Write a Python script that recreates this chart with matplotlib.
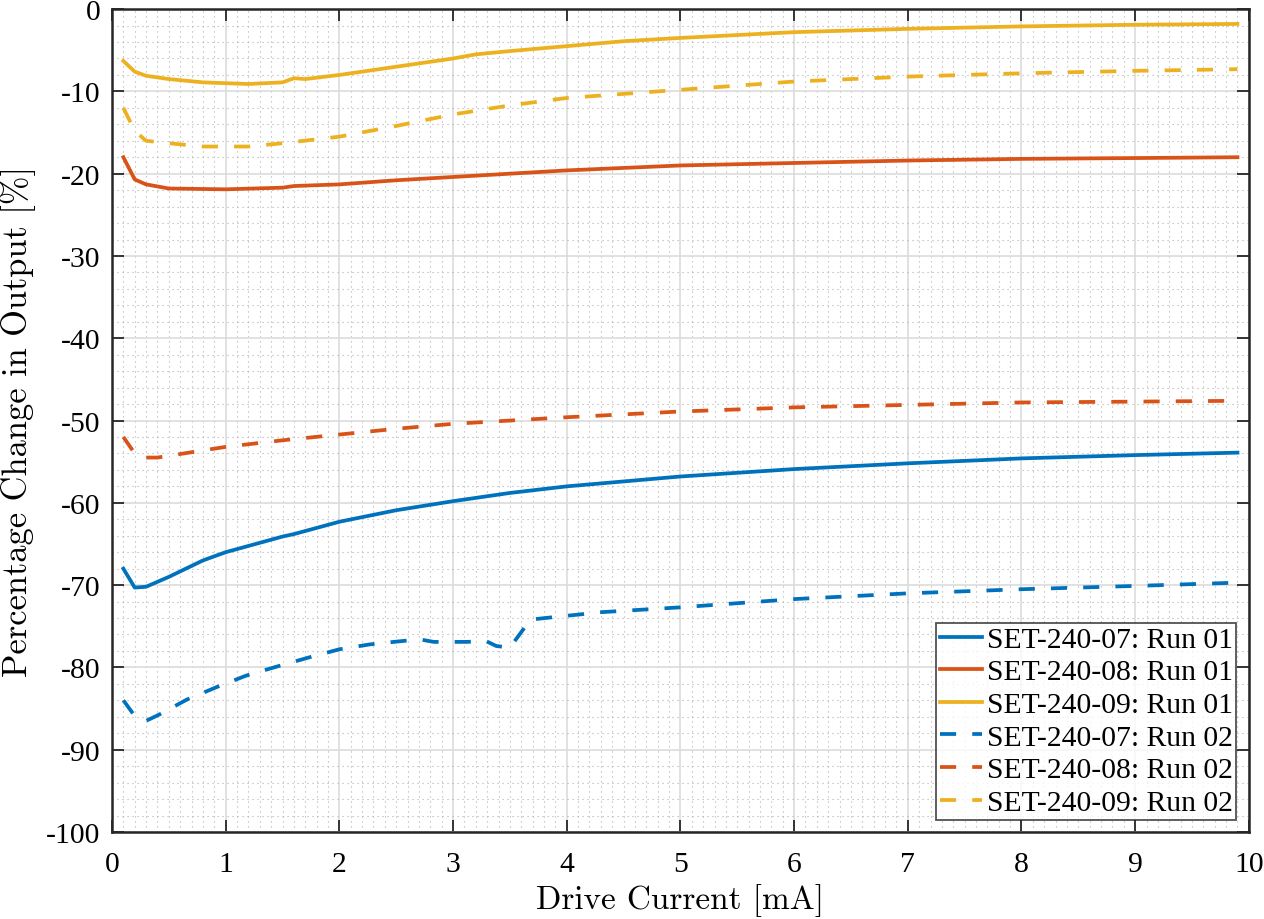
import matplotlib
matplotlib.use("Agg")
import matplotlib.pyplot as plt
from matplotlib.ticker import MultipleLocator

plt.rcParams['font.family'] = ['Liberation Serif', 'DejaVu Serif']
plt.rcParams['axes.unicode_minus'] = False

# Run 01 / Run 02 curves
x_y07_r1 = [0.1, 0.2, 0.3, 0.5, 0.8, 1.0, 1.5, 1.6, 2.0, 2.5, 3.0, 3.5, 4.0, 4.5, 5.0, 6.0, 7.0, 8.0, 9.0, 9.9]
y07_r1 = [-68.0, -70.3, -70.2, -69.0, -67.0, -66.0, -64.1, -63.8, -62.3, -60.9, -59.8, -58.8, -58.0, -57.4, -56.8, -55.9, -55.2, -54.6, -54.2, -53.9]

x_y08_r1 = [0.1, 0.2, 0.3, 0.5, 1.0, 1.5, 1.6, 2.0, 2.5, 3.0, 3.5, 4.0, 5.0, 6.0, 7.0, 8.0, 9.0, 9.9]
y08_r1 = [-18.0, -20.7, -21.3, -21.8, -21.9, -21.7, -21.5, -21.3, -20.8, -20.4, -20.0, -19.6, -19.0, -18.7, -18.4, -18.2, -18.1, -18.0]

x_y09_r1 = [0.1, 0.2, 0.3, 0.5, 0.8, 1.0, 1.2, 1.5, 1.6, 1.7, 2.0, 2.5, 3.0, 3.2, 3.5, 4.0, 4.5, 5.0, 6.0, 7.0, 8.0, 9.0, 9.9]
y09_r1 = [-6.3, -7.6, -8.1, -8.5, -8.9, -9.0, -9.1, -8.9, -8.4, -8.5, -8.0, -7.0, -6.0, -5.5, -5.1, -4.5, -3.9, -3.5, -2.8, -2.4, -2.1, -1.9, -1.8]

x_y07_r2 = [0.1, 0.2, 0.3, 0.42, 0.66, 0.92, 1.18, 1.45, 1.73, 2.0, 2.27, 2.55, 2.71, 2.83, 3.12, 3.29, 3.38, 3.5, 3.68, 3.81, 4.09, 4.29, 5.0, 6.0, 7.0, 8.0, 9.0, 9.9]
y07_r2 = [-84.0, -85.9, -86.5, -85.7, -83.9, -82.4, -81.0, -79.9, -78.8, -77.8, -77.2, -76.8, -76.6, -76.9, -76.9, -76.8, -77.4, -77.6, -74.2, -74.0, -73.6, -73.3, -72.7, -71.7, -71.0, -70.5, -70.1, -69.7]

x_y08_r2 = [0.1, 0.2, 0.3, 0.4, 1.0, 1.5, 2.0, 2.5, 3.0, 3.5, 4.0, 5.0, 6.0, 7.0, 8.0, 9.0, 9.9]
y08_r2 = [-52.0, -54.0, -54.5, -54.5, -53.2, -52.4, -51.7, -51.0, -50.4, -50.0, -49.6, -48.9, -48.4, -48.1, -47.8, -47.7, -47.6]

x_y09_r2 = [0.1, 0.2, 0.3, 0.5, 0.8, 1.2, 1.5, 2.0, 2.5, 3.0, 3.5, 4.0, 4.5, 5.0, 6.0, 7.0, 8.0, 9.0, 9.9]
y09_r2 = [-12.0, -14.8, -16.0, -16.3, -16.7, -16.7, -16.3, -15.5, -14.2, -12.8, -11.7, -10.8, -10.3, -9.8, -8.8, -8.2, -7.8, -7.5, -7.3]

labels = ["SET-240-07: Run 01", "SET-240-08: Run 01", "SET-240-09: Run 01",
          "SET-240-07: Run 02", "SET-240-08: Run 02", "SET-240-09: Run 02"]

blue, red, yellow = "#0072BD", "#D95319", "#EDB120"

fig = plt.figure(figsize=(12.64, 9.2), dpi=100)
ax = fig.add_axes([0.0886, 0.0946, 0.8994, 0.8944])

lw = 2.7
dash = (0, (4.3, 4.3))
ax.plot(x_y07_r1, y07_r1, color=blue, lw=lw, label=labels[0])
ax.plot(x_y08_r1, y08_r1, color=red, lw=lw, label=labels[1])
ax.plot(x_y09_r1, y09_r1, color=yellow, lw=lw, label=labels[2])
ax.plot(x_y07_r2, y07_r2, color=blue, lw=lw, ls=dash, label=labels[3])
ax.plot(x_y08_r2, y08_r2, color=red, lw=lw, ls=dash, label=labels[4])
ax.plot(x_y09_r2, y09_r2, color=yellow, lw=lw, ls=dash, label=labels[5])

ax.set_xlim(0, 10)
ax.set_ylim(-100, 0)
ax.xaxis.set_major_locator(MultipleLocator(1))
ax.yaxis.set_major_locator(MultipleLocator(10))
ax.xaxis.set_minor_locator(MultipleLocator(0.1))
ax.yaxis.set_minor_locator(MultipleLocator(2))
ax.tick_params(which='major', direction='in', length=8.5, width=1.3,
               top=True, right=True, labelsize=21.3, color='#262626')
ax.tick_params(axis='x', which='major', pad=14)
ax.tick_params(axis='y', which='major', pad=8.5)
ax.tick_params(which='minor', length=0)
ax.grid(which='major', color='#dcdcdc', lw=1.2)
ax.grid(which='minor', color='#b0b0b0', lw=0.8, ls=(0, (1, 3.5)))
ax.set_axisbelow(True)
for s in ax.spines.values():
    s.set_linewidth(1.8)
    s.set_color('#262626')

ax.set_xlabel("Drive Current [mA]", fontsize=24, family='cmr10', labelpad=4)
ax.set_ylabel("Percentage Change in Output [%]", fontsize=24.8, family='cmr10', labelpad=7)

leg = ax.legend(loc='lower right', fontsize=21.3, frameon=True, fancybox=False,
                edgecolor='#262626', handlelength=1.45, handletextpad=0.15,
                borderpad=0.12, labelspacing=0.2, borderaxespad=0.42)
leg.get_frame().set_linewidth(1.3)

fig.savefig("out.png", dpi=100)
